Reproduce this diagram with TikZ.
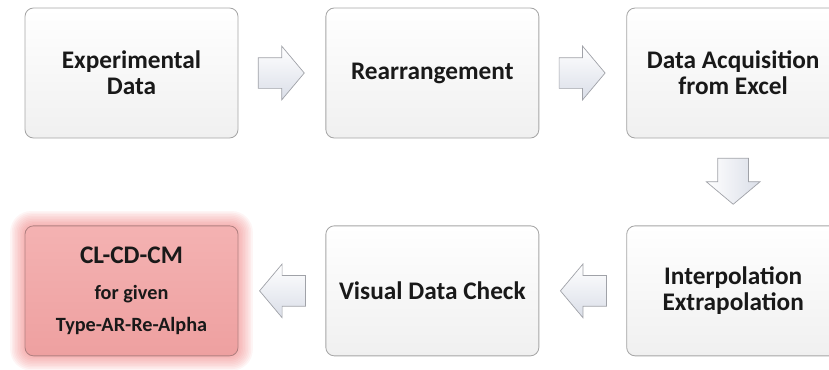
\documentclass[tikz,border=0pt]{standalone}
\usepackage{fontspec}
\setmainfont{Carlito}
\usepackage{tikz}
\usetikzlibrary{shapes,shapes.arrows,positioning,calc,backgrounds}
\definecolor{boxline}{RGB}{166,166,166}
\definecolor{boxlow}{RGB}{240,240,240}
\definecolor{arrline}{RGB}{160,162,168}
\definecolor{arrlow}{RGB}{218,222,232}
\definecolor{resfill}{RGB}{244,178,178}
\definecolor{reslow}{RGB}{238,160,160}
\definecolor{resline}{RGB}{176,128,128}
\definecolor{resglow}{RGB}{238,110,110}
\definecolor{txt}{RGB}{25,25,25}

\begin{document}
\begin{tikzpicture}[
    node distance=2.175cm and 2.175cm,
    every node/.style={font=\fontsize{18}{18.5}\selectfont\bfseries, text=txt},
    stage/.style={rectangle, draw=boxline, top color=white, bottom color=boxlow,
                  minimum width=5.325cm, minimum height=3.25cm,
                  align=center, rounded corners=6pt, line width=0.6pt},
    result/.style={stage, draw=resline, top color=resfill, bottom color=reslow},
    flow/.style={single arrow, draw=arrline, top color=white, bottom color=arrlow,
                 minimum height=1.15cm, minimum width=1.325cm,
                 single arrow head extend=0.2875cm, single arrow tip angle=100,
                 inner xsep=0pt, inner ysep=0.375cm, line width=0.5pt, anchor=tail},
    flowdown/.style={flow, shape border rotate=270, inner xsep=0.375cm, inner ysep=0pt,
                     left color=white, right color=arrlow}
]
\useasboundingbox (0,0) rectangle (20.725,-9.225);

% Stages
\node[stage] at (3.2875,-1.825) (exp) {Experimental\\Data};
\node[stage, right=of exp] (rea) {Rearrangement};
\node[stage, right=of rea] (acq) {Data Acquisition\\from Excel};
\node[stage, below=of acq] (itp) {Interpolation\\Extrapolation};
\node[stage, left=of itp] (vis) {Visual Data Check};
\node[result, left=of vis] (res) {CL-CD-CM\\[7pt]
    {\fontsize{14.4}{17}\selectfont for given}\\[4pt]
    {\fontsize{14.4}{17}\selectfont Type-AR-Re-Alpha}};

% Glow around the result
\begin{scope}[on background layer]
\foreach \g in {1,...,9}
  \fill[resglow, opacity=0.07, rounded corners=6pt+\g*1pt]
    ($(res.south west)+(-\g*0.04,-\g*0.04)$) rectangle ($(res.north east)+(\g*0.04,\g*0.04)$);
\end{scope}

% Flow arrows
\node[flow] (f1) at ($(exp.east)!0.5!(rea.west)+(-0.6,0)$) {};
\node[flow] (f2) at ($(rea.east)!0.5!(acq.west)+(-0.6,0)$) {};
\node[flowdown] (f3) at ($(acq.south)!0.5!(itp.north)+(0,0.6)$) {};
\node[flow, shape border rotate=180] (f4) at ($(itp.west)!0.5!(vis.east)+(0.6,0)$) {};
\node[flow, shape border rotate=180] (f5) at ($(vis.west)!0.5!(res.east)+(0.6,0)$) {};

\end{tikzpicture}
\end{document}
